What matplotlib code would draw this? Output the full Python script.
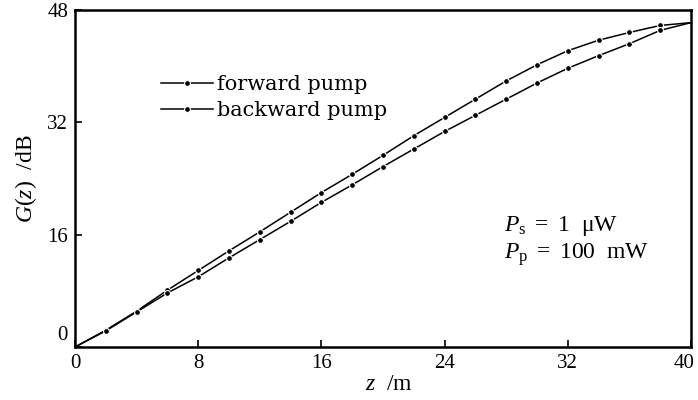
import matplotlib
matplotlib.use("Agg")
import matplotlib.pyplot as plt
import matplotlib.transforms as mtransforms

z = [0, 2, 4, 6, 8, 10, 12, 14, 16, 18, 20, 22, 24, 26, 28, 30, 32, 34, 36, 38, 40]
forward = [0, 2.4, 5.1, 8.1, 10.9, 13.7, 16.4, 19.2, 22.0, 24.6, 27.3, 30.1,
           32.7, 35.3, 37.9, 40.2, 42.2, 43.7, 44.8, 45.8, 46.2]
backward = [0, 2.3, 5.0, 7.7, 10.0, 12.7, 15.3, 17.9, 20.6, 23.1, 25.7, 28.2,
            30.7, 33.0, 35.3, 37.6, 39.7, 41.5, 43.2, 45.1, 46.2]
xticks = [0, 8, 16, 24, 32, 40]
yticks = [0, 16, 32, 48]

plt.rcParams['font.family'] = ['Liberation Serif', 'DejaVu Serif']
plt.rcParams['mathtext.fontset'] = 'custom'
plt.rcParams['mathtext.rm'] = 'Liberation Serif'
plt.rcParams['mathtext.it'] = 'Liberation Serif:italic'
plt.rcParams['mathtext.bf'] = 'Liberation Serif:bold'

fig = plt.figure(figsize=(6.98, 4.0), dpi=100)
ax = fig.add_axes([0.1075, 0.1325, 0.8825, 0.8425])

style = dict(color='black', lw=1.1, marker='o', markersize=4.2,
             markerfacecolor='black', markeredgecolor='white', markeredgewidth=0.8,
             markevery=slice(1, -1))
ax.plot(z, forward, label='forward pump', **style)
ax.plot(z, backward, label='backward pump', **style)

ax.set_xlim(0, 40)
ax.set_ylim(0, 48)
ax.set_xticks(xticks)
ax.set_yticks(yticks)
ax.tick_params(direction='in', length=5, width=1.2, labelsize=15, pad=5)
for s in ax.spines.values():
    s.set_linewidth(1.8)

# raise the "0" y label slightly as in the reference
lbl0 = ax.get_yticklabels()[0]
lbl0.set_transform(lbl0.get_transform() + mtransforms.ScaledTranslation(0, 10/72, fig.dpi_scale_trans))
# pull the "40" x label slightly left so it stays inside the figure
lbl40 = ax.get_xticklabels()[-1]
lbl40.set_transform(lbl40.get_transform() + mtransforms.ScaledTranslation(-5/72, 0, fig.dpi_scale_trans))

ax.set_xlabel(r'$z$  /m', fontsize=17, labelpad=1, x=0.51)
ax.set_ylabel(r'$G$($z$)  /dB', fontsize=17, labelpad=6)

leg = ax.legend(loc='upper left', bbox_to_anchor=(0.122, 0.838), frameon=False,
                handlelength=2.5, handletextpad=0.2, labelspacing=0.35, borderpad=0,
                prop={'family': 'DejaVu Serif', 'size': 15})

ax.text(0.696, 0.36, r'$P_\mathrm{s}$ $=$ 1  μW', transform=ax.transAxes, fontsize=17, va='center')
ax.text(0.696, 0.275, r'$P_\mathrm{p}$ $=$ 100  mW', transform=ax.transAxes, fontsize=17, va='center')

fig.savefig('out.png', dpi=100)
